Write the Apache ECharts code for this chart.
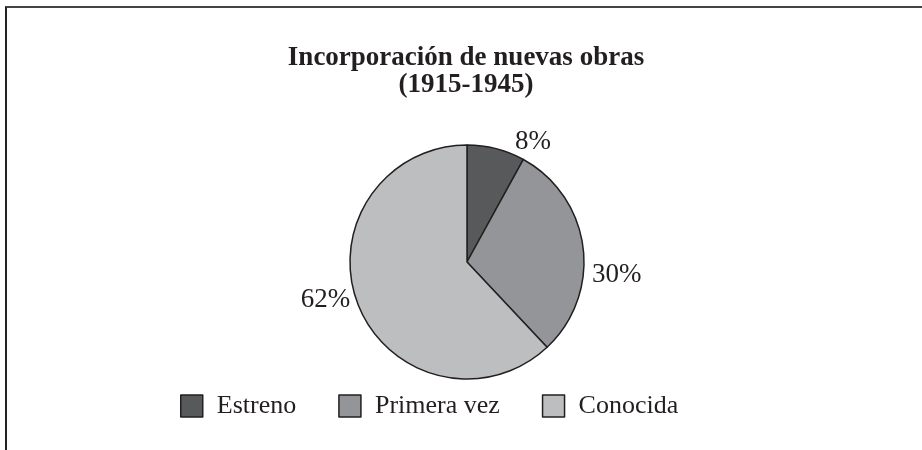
<!DOCTYPE html>
<html>
<head>
<meta charset="utf-8">
<script src="https://cdn.jsdelivr.net/npm/echarts@6/dist/echarts.min.js"></script>
<style>
  html, body { margin: 0; padding: 0; background: #fff; }
  #frame { position: absolute; left: 5px; top: 6px; right: 0; bottom: 0;
           border-top: 2px solid #444; border-left: 2px solid #222; }
  #chart { position: absolute; left: 0; top: 0; width: 922px; height: 450px; }
</style>
</head>
<body>
<div id="frame"></div>
<div id="chart"></div>
<script>
// datos
var categories = ['Estreno', 'Primera vez', 'Conocida'];
var shares = [8, 30, 62];
var colors = ['#58595b', '#939598', '#bcbec0'];
// small nudges for the outside labels
var labelOffsets = [[14, -7], [4, 28], [-3, -5]];

var serif = '"Liberation Serif", "DejaVu Serif", serif';

var chart = echarts.init(document.getElementById('chart'));

var option = {
  animation: false,
  title: {
    text: 'Incorporación de nuevas obras\n(1915-1945)',
    left: 466,
    textAlign: 'center',
    top: 45,
    padding: 0,
    textStyle: {
      fontFamily: serif,
      fontWeight: 'bold',
      fontSize: 27,
      lineHeight: 27,
      color: '#231f20'
    }
  },
  legend: {
    data: categories,
    left: 180,
    top: 393,
    padding: 0,
    itemWidth: 22,
    itemHeight: 22,
    itemGap: 42,
    icon: 'rect',
    itemStyle: { borderColor: '#231f20', borderWidth: 1.5 },
    textStyle: {
      fontFamily: serif,
      fontSize: 26,
      color: '#231f20',
      padding: [0, 0, 0, 9]
    }
  },
  series: [{
    type: 'pie',
    center: [467, 262],
    radius: 117,
    startAngle: 90,
    clockwise: true,
    avoidLabelOverlap: false,
    itemStyle: { borderColor: '#231f20', borderWidth: 1.5 },
    label: {
      show: true,
      position: 'outside',
      formatter: '{c}%',
      fontFamily: serif,
      fontSize: 27,
      color: '#231f20'
    },
    labelLine: { show: false, length: 0, length2: 0 },
    emphasis: { disabled: true },
    data: categories.map(function (name, i) {
      return {
        name: name,
        value: shares[i],
        itemStyle: { color: colors[i] },
        label: { offset: labelOffsets[i] }
      };
    })
  }]
};

chart.setOption(option);
</script>
</body>
</html>
